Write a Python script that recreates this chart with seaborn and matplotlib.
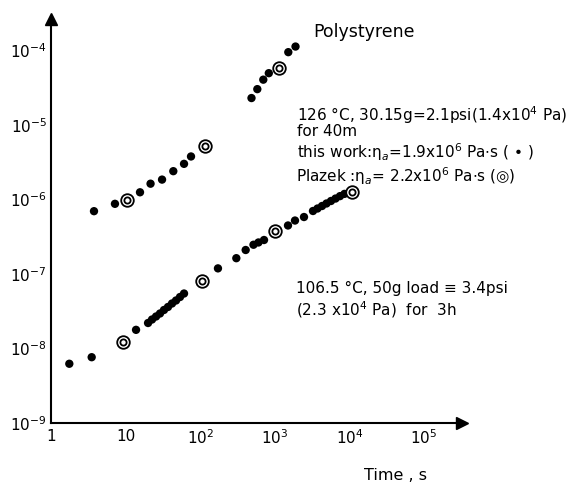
#!/usr/bin/env python3
"""Polystyrene creep compliance vs time, log-log, redrawn from a scanned figure."""

import matplotlib
matplotlib.use("Agg")
import matplotlib.pyplot as plt
import matplotlib.ticker as mticker
import pandas as pd
import seaborn as sns

# 126 C series, early part (this work, filled dots)
upper_dots_t = [3.77, 7.2, 15.6, 21.6, 30.8, 43.6, 60.7, 75.3]
upper_dots_j = [6.97e-7, 8.75e-7, 1.25e-6, 1.63e-6, 1.85e-6, 2.40e-6, 3.01e-6, 3.78e-6]
upper_circ_t = [10.4, 116]
upper_circ_j = [9.8e-7, 5.19e-6]

# 126 C series, late part
top_dots_t = [487, 583, 701, 831, 1517, 1895]
top_dots_j = [2.30e-5, 3.03e-5, 4.06e-5, 4.96e-5, 9.5e-5, 1.13e-4]
top_circ_t = [1149]
top_circ_j = [5.91e-5]

# 106.5 C series
lower_dots_t = [1.76, 3.51, 13.8, 20.0, 22.6, 25.6, 28.9, 32.7, 37.0, 41.9, 47.4,
                53.6, 60.7, 173, 305, 407, 518, 604, 717, 1503, 1865, 2462, 3250,
                3735, 4295, 4930, 5665, 6515, 7480, 8590]
lower_dots_j = [6.24e-9, 7.64e-9, 1.78e-8, 2.20e-8, 2.45e-8, 2.69e-8, 2.95e-8,
                3.29e-8, 3.61e-8, 4.02e-8, 4.41e-8, 4.91e-8, 5.47e-8, 1.19e-7,
                1.63e-7, 2.10e-7, 2.47e-7, 2.65e-7, 2.86e-7, 4.48e-7, 5.22e-7,
                5.82e-7, 7.01e-7, 7.57e-7, 8.18e-7, 8.84e-7, 9.55e-7, 1.03e-6,
                1.11e-6, 1.19e-6]
lower_circ_t = [9.32, 104.7, 991, 10840]
lower_circ_j = [1.22e-8, 8.03e-8, 3.72e-7, 1.25e-6]

x_ticks = [1, 10, 100, 1000, 1e4, 1e5]
x_tick_labels = ["1", "10", r"$10^{2}$", r"$10^{3}$", r"$10^{4}$", r"$10^{5}$"]
y_ticks = [1e-9, 1e-8, 1e-7, 1e-6, 1e-5, 1e-4]
y_tick_labels = [r"$10^{-9}$", r"$10^{-8}$", r"$10^{-7}$", r"$10^{-6}$",
                 r"$10^{-5}$", r"$10^{-4}$"]

W, H = 578, 487


def main() -> None:
    sns.set_style("white")
    plt.rcParams["font.family"] = ["DejaVu Sans"]
    plt.rcParams["mathtext.fontset"] = "dejavusans"
    plt.rcParams["text.color"] = "black"

    dots = pd.DataFrame({
        "t": upper_dots_t + top_dots_t + lower_dots_t,
        "j": upper_dots_j + top_dots_j + lower_dots_j,
    })
    circs = pd.DataFrame({
        "t": upper_circ_t + top_circ_t + lower_circ_t,
        "j": upper_circ_j + top_circ_j + lower_circ_j,
    })

    fig = plt.figure(figsize=(W / 100, H / 100), dpi=100)
    ax = fig.add_axes([51 / W, 64 / H, 411 / W, 404 / H])
    ax.set_xscale("log")
    ax.set_yscale("log")

    sns.scatterplot(data=dots, x="t", y="j", color="black", s=36,
                    edgecolor="none", ax=ax, zorder=3)
    sns.scatterplot(data=circs, x="t", y="j", color="white", s=82,
                    edgecolor="black", linewidth=1.3, ax=ax, zorder=4)
    sns.scatterplot(data=circs, x="t", y="j", color="white", s=20,
                    edgecolor="black", linewidth=1.3, ax=ax, zorder=5)

    ax.set_xlim(1, 10 ** (411 / 74.6))
    ax.set_ylim(1e-9, 10 ** (-9 + 404 / 74.5))
    ax.set_xlabel("")
    ax.set_ylabel("")

    for side in ("top", "right"):
        ax.spines[side].set_visible(False)
    for side in ("left", "bottom"):
        ax.spines[side].set_linewidth(1.5)
        ax.spines[side].set_color("black")

    ax.xaxis.set_major_locator(mticker.FixedLocator(x_ticks))
    ax.set_xticklabels(x_tick_labels)
    ax.xaxis.set_minor_locator(mticker.FixedLocator([4, 40, 400, 4000, 40000]))
    ax.xaxis.set_minor_formatter(mticker.NullFormatter())
    ax.yaxis.set_major_locator(mticker.FixedLocator(y_ticks))
    ax.set_yticklabels(y_tick_labels)
    ax.yaxis.set_minor_locator(mticker.NullLocator())

    ax.tick_params(axis="x", which="major", direction="in", length=11, width=1.1,
                   labelsize=11, pad=4, colors="black")
    ax.tick_params(axis="x", which="minor", direction="in", length=5, width=1.0,
                   colors="black")
    ax.tick_params(axis="y", which="major", direction="in", length=13, width=1.1,
                   labelsize=11, pad=3, colors="black")

    # arrow heads on the axes
    ax.plot(1, 0, marker=">", ms=9, color="black", transform=ax.transAxes,
            clip_on=False)
    ax.plot(0, 1, marker="^", ms=9, color="black", transform=ax.transAxes,
            clip_on=False)

    def put(px, py, s, size=11, ha="left"):
        fig.text(px / W, 1 - py / H, s, fontsize=size, ha=ha, va="center",
                 color="black")

    put(313, 32, "Polystyrene", size=12.5)
    put(297, 115, r"126 °C, 30.15g=2.1psi(1.4x10$^{4}$ Pa)")
    put(297, 132, "for 40m")
    put(297, 152, r"this work:η$_a$=1.9x10$^{6}$ Pa$\cdot$s ( • )")
    put(296, 176, r"Plazek :η$_a$= 2.2x10$^{6}$ Pa$\cdot$s (◎)")
    put(296, 288, "106.5 °C, 50g load ≡ 3.4psi")
    put(296, 310, r"(2.3 x10$^{4}$ Pa)  for  3h")
    put(395, 475, "Time , s", size=11.5, ha="center")

    fig.savefig("out.png", dpi=100)
    plt.close(fig)


if __name__ == "__main__":
    main()
